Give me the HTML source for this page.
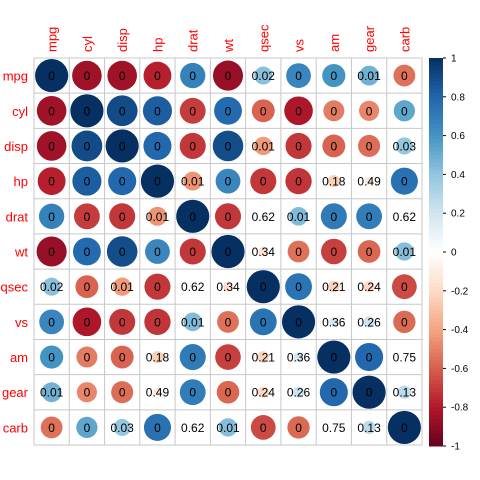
<!DOCTYPE html>
<html><head><meta charset="utf-8"><style>
html,body{margin:0;padding:0;background:#fff;}
svg{display:block;font-family:"Liberation Sans",Arial,sans-serif;}
</style></head><body>
<svg id="chart" width="480" height="480" viewBox="0 0 480 480" xmlns="http://www.w3.org/2000/svg"></svg>
<script>
const variables = ["mpg","cyl","disp","hp","drat","wt","qsec","vs","am","gear","carb"];
const corrValues = [
[1,-0.85,-0.85,-0.78,0.68,-0.87,0.42,0.66,0.60,0.48,-0.55],
[-0.85,1,0.90,0.83,-0.70,0.78,-0.59,-0.81,-0.52,-0.49,0.53],
[-0.85,0.90,1,0.79,-0.71,0.89,-0.43,-0.71,-0.59,-0.56,0.39],
[-0.78,0.83,0.79,1,-0.45,0.66,-0.71,-0.72,-0.24,-0.13,0.75],
[0.68,-0.70,-0.71,-0.45,1,-0.71,0.09,0.44,0.71,0.70,-0.09],
[-0.87,0.78,0.89,0.66,-0.71,1,-0.17,-0.55,-0.69,-0.58,0.43],
[0.42,-0.59,-0.43,-0.71,0.09,-0.17,1,0.74,-0.23,-0.21,-0.66],
[0.66,-0.81,-0.71,-0.72,0.44,-0.55,0.74,1,0.17,0.21,-0.57],
[0.60,-0.52,-0.59,-0.24,0.71,-0.69,-0.23,0.17,1,0.79,0.06],
[0.48,-0.49,-0.56,-0.13,0.70,-0.58,-0.21,0.21,0.79,1,0.27],
[-0.55,0.53,0.39,0.75,-0.09,0.43,-0.66,-0.57,0.06,0.27,1]];
const pLabels = [
["0","0","0","0","0","0","0.02","0","0","0.01","0"],
["0","0","0","0","0","0","0","0","0","0","0"],
["0","0","0","0","0","0","0.01","0","0","0","0.03"],
["0","0","0","0","0.01","0","0","0","0.18","0.49","0"],
["0","0","0","0.01","0","0","0.62","0.01","0","0","0.62"],
["0","0","0","0","0","0","0.34","0","0","0","0.01"],
["0.02","0","0.01","0","0.62","0.34","0","0","0.21","0.24","0"],
["0","0","0","0","0.01","0","0","0","0.36","0.26","0"],
["0","0","0","0.18","0","0","0.21","0.36","0","0","0.75"],
["0.01","0","0","0.49","0","0","0.24","0.26","0","0","0.13"],
["0","0","0.03","0","0.62","0.01","0","0","0.75","0.13","0"]];
const legendTicks = [1,0.8,0.6,0.4,0.2,0,-0.2,-0.4,-0.6,-0.8,-1];

const NS="http://www.w3.org/2000/svg";
const svg=document.getElementById('chart');
const X0=34,Y0=58,CW=388/11,CH=387/11;
const palette=["#67001F","#B2182B","#D6604D","#F4A582","#FDDBC7","#FFFFFF","#D1E5F0","#92C5DE","#4393C3","#2166AC","#053061"];
function hex(h){return [1,3,5].map(i=>parseInt(h.substr(i,2),16));}
function color(v){const t=(v+1)/2*10;const i=Math.min(9,Math.floor(t));const f=t-i;const a=hex(palette[i]),b=hex(palette[i+1]);return "rgb("+a.map((x,k)=>Math.round(x+(b[k]-x)*f)).join(",")+")";}
function xCol(j){return X0+CW*(j+0.5);}
function yRow(i){return Y0+CH*(i+0.5);}
function mk(tag,attrs){const e=document.createElementNS(NS,tag);for(const k in attrs)e.setAttribute(k,attrs[k]);svg.appendChild(e);return e;}

// grid
for(let k=0;k<=11;k++){
  const v=mk('line',{x1:X0+CW*k,x2:X0+CW*k,y1:Y0,y2:Y0+CH*11,stroke:'#c8c8c8','stroke-width':1});
  
  
  const h=mk('line',{x1:X0,x2:X0+CW*11,y1:Y0+CH*k,y2:Y0+CH*k,stroke:'#c8c8c8','stroke-width':1});
  
  
}
for(let i=0;i<11;i++){
  for(let j=0;j<11;j++){
    const v=corrValues[i][j];
    const r=0.47*CW*Math.pow(Math.abs(v),0.7);
    const c=mk('circle',{cx:xCol(j),cy:yRow(i),r:r,fill:color(v)});
    
    
    const t=mk('text',{x:xCol(j),y:yRow(i)+4.5,'text-anchor':'middle','font-size':12,fill:'#000'});
    t.textContent=pLabels[i][j];
    
    
  }
  const rl=mk('text',{x:28,y:yRow(i)+5,'text-anchor':'end','font-size':13,fill:'#ff0000'});
  rl.textContent=variables[i];
  
  
  const cl=mk('text',{x:0,y:0,'text-anchor':'start','font-size':13,fill:'#ff0000',transform:'translate('+(xCol(i)+5)+',52) rotate(-90)'});
  cl.textContent=variables[i];
  
  
}
// colorbar
const LX=429,LW=14,LT=58,LB=446;
const N=100;
for(let k=0;k<N;k++){
  const v=1-2*(k+0.5)/N;
  const r=mk('rect',{x:LX,y:LT+(LB-LT)*k/N,width:LW,height:(LB-LT)/N+0.5,fill:color(v)});
  
  
}
function yLeg(v){return LT+(1-v)/2*(LB-LT);}
legendTicks.forEach(v=>{
  const tk=mk('line',{x1:LX+LW,x2:LX+LW+3,y1:yLeg(v),y2:yLeg(v),stroke:'#000','stroke-width':1});
  
  
  const tl=mk('text',{x:LX+LW+8,y:yLeg(v)+3.5,'font-size':10,fill:'#000'});
  tl.textContent=String(v);
  
  
});
</script>
</body></html>
